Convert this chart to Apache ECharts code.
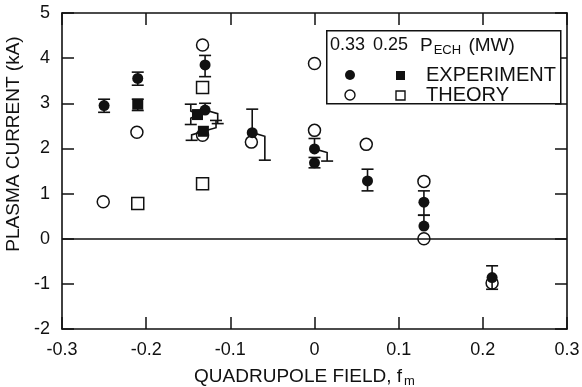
<!DOCTYPE html>
<html>
<head>
<meta charset="utf-8">
<script src="https://cdn.jsdelivr.net/npm/echarts@6/dist/echarts.min.js"></script>
<style>
  html, body { margin: 0; padding: 0; background: #fff; }
  #chart { width: 582px; height: 387px; }
</style>
</head>
<body>
<div id="chart"></div>
<script>
// 0.33 MW experiment (filled circles)
const exp033 = [
  [-0.25, 2.95], [-0.21, 3.55], [-0.13, 3.85], [-0.13, 2.85], [-0.074, 2.35],
  [0, 1.99], [0, 1.68], [0.063, 1.28], [0.13, 0.81], [0.13, 0.28], [0.211, -0.86]
];
// 0.25 MW experiment (filled squares)
const exp025 = [[-0.21, 2.98], [-0.139, 2.75], [-0.132, 2.38]];
// 0.33 MW theory (open circles)
const theo033 = [
  [-0.251, 0.82], [-0.211, 2.36], [-0.133, 4.29], [-0.133, 2.29], [-0.075, 2.14],
  [0, 3.88], [0, 2.4], [0.0615, 2.09], [0.13, 1.27], [0.13, 0], [0.211, -0.98]
];
// 0.25 MW theory (open squares)
const theo025 = [[-0.21, 0.78], [-0.133, 3.35], [-0.133, 1.22]];
// error bars: x, y, high, low, x-offset of upper whisker, x-offset of lower whisker
const errBars = [
  [-0.25, 2.95, 3.09, 2.80, 0, 0],
  [-0.21, 3.55, 3.69, 3.40, 0, 0],
  [-0.21, 2.98, 3.09, 2.84, 0, 0],
  [-0.13, 3.85, 4.06, 3.59, 0, 0],
  [-0.13, 2.85, 3.00, 2.55, 0, 0.015],
  [-0.139, 2.75, 2.98, 2.53, -0.008, -0.008],
  [-0.132, 2.38, 2.62, 2.18, 0.015, -0.014],
  [-0.074, 2.35, 2.87, 1.74, 0, 0.015],
  [0, 1.99, 2.22, 1.72, 0, 0.015],
  [0, 1.68, 1.80, 1.57, 0, 0],
  [0.063, 1.28, 1.54, 1.06, 0, 0],
  [0.13, 0.81, 1.06, 0.52, 0, 0],
  [0.13, 0.28, 0.52, 0.28, 0, 0],
  [0.211, -0.86, -0.60, -1.12, 0, 0]
];

const FONT = "'Liberation Sans', Arial, Helvetica, sans-serif";
const INK = "#111";

const chart = echarts.init(document.getElementById("chart"), null, { renderer: "canvas" });

function errRender(params, api) {
  const x = api.value(0), y = api.value(1);
  const children = [];
  const cap = 6;
  function whisker(end, dx) {
    if (end === y) return;
    const pts = [api.coord([x, y])];
    if (dx !== 0) {
      const step = end > y ? 0.08 : -0.08;
      pts.push(api.coord([x + dx, y + step]));
    }
    const pe = api.coord([x + dx, end]);
    pts.push(pe);
    children.push({ type: "polyline", shape: { points: pts }, style: { stroke: INK, lineWidth: 1.6, fill: null } });
    children.push({
      type: "line",
      shape: { x1: pe[0] - cap, y1: pe[1], x2: pe[0] + cap, y2: pe[1] },
      style: { stroke: INK, lineWidth: 1.6 }
    });
  }
  whisker(api.value(2), api.value(4));
  whisker(api.value(3), api.value(5));
  return { type: "group", children };
}

const tickInside = { inside: true, length: 12, lineStyle: { color: INK, width: 1.5 } };
const frameLine = { show: true, onZero: false, lineStyle: { color: INK, width: 1.6 } };

const option = {
  backgroundColor: "#fff",
  animation: false,
  grid: { left: 62, right: 15, top: 13, bottom: 58, outerBoundsMode: "none", containLabel: false },
  xAxis: [
    {
      type: "value", min: -0.3, max: 0.3, interval: 0.1, position: "bottom",
      axisLine: frameLine, axisTick: tickInside, splitLine: { show: false },
      axisLabel: { color: INK, fontFamily: FONT, fontSize: 18, margin: 12 },
      name: "QUADRUPOLE FIELD, f{s|m}", nameLocation: "middle", nameGap: 36,
      nameTextStyle: {
        color: INK, fontFamily: FONT, fontSize: 19, padding: [0, 20, 0, 0],
        rich: { s: { fontFamily: FONT, fontSize: 13, color: INK, padding: [10, 0, 0, 2] } }
      }
    },
    {
      type: "value", min: -0.3, max: 0.3, interval: 0.1, position: "top",
      axisLine: frameLine, axisTick: tickInside, axisLabel: { show: false }, splitLine: { show: false }
    }
  ],
  yAxis: [
    {
      type: "value", min: -2, max: 5, interval: 1, position: "left",
      axisLine: frameLine, axisTick: tickInside, splitLine: { show: false },
      axisLabel: { color: INK, fontFamily: FONT, fontSize: 18, margin: 12 },
      name: "PLASMA CURRENT (kA)", nameLocation: "middle", nameGap: 35,
      nameTextStyle: { color: INK, fontFamily: FONT, fontSize: 19, padding: [0, 0, 0, 54] }
    },
    {
      type: "value", min: -2, max: 5, interval: 1, position: "right",
      axisLine: frameLine, axisTick: tickInside, axisLabel: { show: false }, splitLine: { show: false }
    }
  ],
  series: [
    {
      name: "THEORY 0.33", type: "scatter", data: theo033, symbol: "circle", symbolSize: 12, z: 2,
      itemStyle: { color: "#fff", borderColor: INK, borderWidth: 1.5, opacity: 1 },
      markLine: {
        silent: true, symbol: "none", label: { show: false },
        lineStyle: { color: INK, width: 1.6, type: "solid" },
        data: [{ yAxis: 0 }]
      }
    },
    {
      name: "THEORY 0.25", type: "scatter", data: theo025, symbol: "rect", symbolSize: 12, z: 2,
      itemStyle: { color: "#fff", borderColor: INK, borderWidth: 1.5, opacity: 1 }
    },
    {
      name: "error", type: "custom", data: errBars, renderItem: errRender, z: 3,
      encode: { x: 0, y: 1 }
    },
    {
      name: "EXPERIMENT 0.33", type: "scatter", data: exp033, symbol: "circle", symbolSize: 11, z: 4,
      itemStyle: { color: INK, opacity: 1 }
    },
    {
      name: "EXPERIMENT 0.25", type: "scatter", data: exp025, symbol: "rect", symbolSize: 11, z: 4,
      itemStyle: { color: INK, opacity: 1 }
    }
  ],
  graphic: [
    { type: "rect", left: 326, top: 30, shape: { width: 234, height: 73 }, style: { fill: "#fff", stroke: INK, lineWidth: 1.5 }, z: 10 },
    { type: "text", left: 330, top: 36, style: { text: "0.33", font: "18px " + FONT, fill: INK }, z: 11 },
    { type: "text", left: 373, top: 36, style: { text: "0.25", font: "18px " + FONT, fill: INK }, z: 11 },
    {
      type: "text", left: 420, top: 36, z: 11,
      style: {
        text: "P{s|ECH} (MW)", font: "19px " + FONT, fill: INK,
        rich: { s: { fontSize: 13, fontFamily: FONT, fill: INK, padding: [10, 2, 0, 1] } }
      }
    },
    { type: "circle", shape: { cx: 350, cy: 75, r: 5 }, style: { fill: INK }, z: 11 },
    { type: "rect", shape: { x: 396, y: 71, width: 9, height: 9 }, style: { fill: INK }, z: 11 },
    { type: "text", left: 426, top: 65, style: { text: "EXPERIMENT", font: "20px " + FONT, fill: INK }, z: 11 },
    { type: "circle", shape: { cx: 350, cy: 95, r: 5 }, style: { fill: "#fff", stroke: INK, lineWidth: 1.4 }, z: 11 },
    { type: "rect", shape: { x: 396, y: 91, width: 9, height: 9 }, style: { fill: "#fff", stroke: INK, lineWidth: 1.4 }, z: 11 },
    { type: "text", left: 426, top: 85, style: { text: "THEORY", font: "20px " + FONT, fill: INK }, z: 11 }
  ]
};

chart.setOption(option);
</script>
</body>
</html>
